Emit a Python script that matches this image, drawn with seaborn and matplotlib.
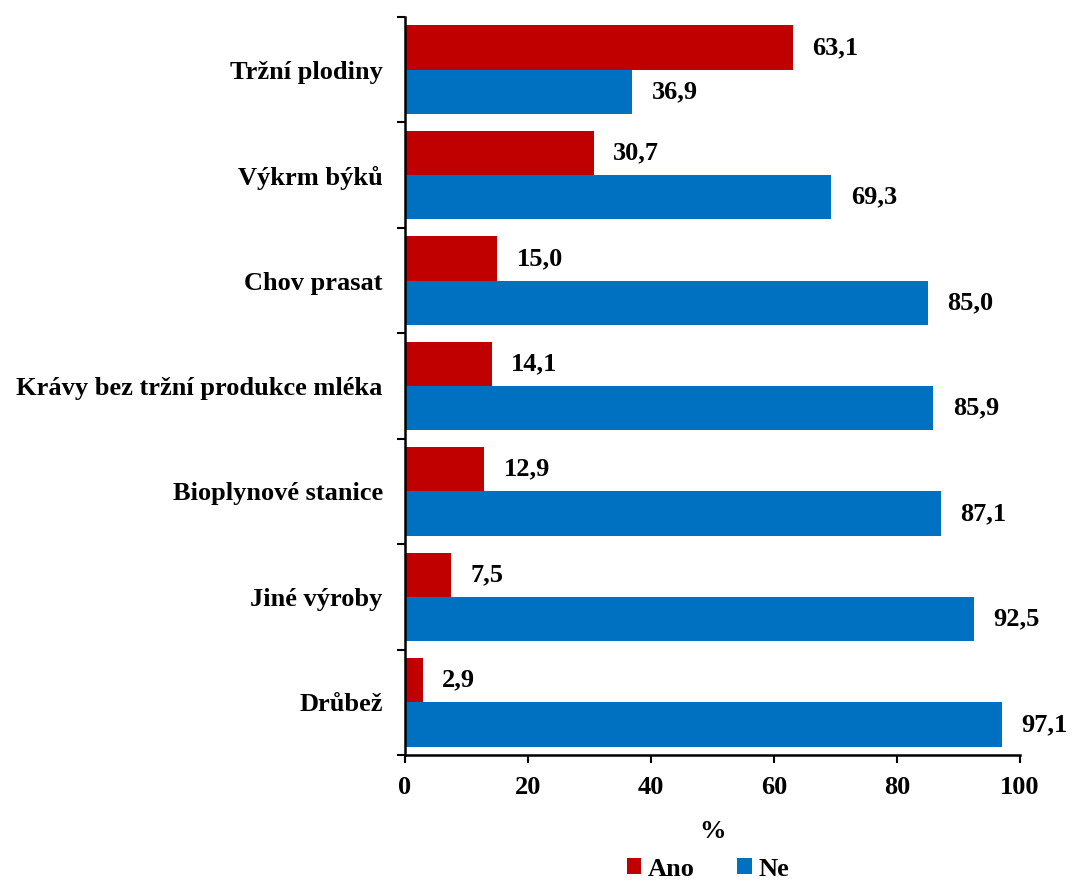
import matplotlib
matplotlib.use("Agg")
import matplotlib.pyplot as plt
import seaborn as sns
import pandas as pd
import numpy as np
from matplotlib.patches import Patch

categories = ["Tržní plodiny", "Výkrm býků", "Chov prasat",
              "Krávy bez tržní produkce mléka", "Bioplynové stanice",
              "Jiné výroby", "Drůbež"]
ano = [63.1, 30.7, 15.0, 14.1, 12.9, 7.5, 2.9]
ne = [36.9, 69.3, 85.0, 85.9, 87.1, 92.5, 97.1]
series = ["Ano", "Ne"]
colors = ["#C00000", "#0070C0"]
xticks = [0, 20, 40, 60, 80, 100]

df = pd.DataFrame({
    "cat": categories * 2,
    "val": ano + ne,
    "series": [series[0]] * len(categories) + [series[1]] * len(categories),
})

sns.set_theme(style="white")
plt.rcParams["font.family"] = ["Liberation Serif", "DejaVu Serif"]
plt.rcParams["font.weight"] = "bold"
plt.rcParams["text.color"] = "black"
plt.rcParams["axes.labelcolor"] = "black"
plt.rcParams["xtick.color"] = "black"
plt.rcParams["ytick.color"] = "black"

FS = 19

fig = plt.figure(figsize=(10.73, 8.84), dpi=100)
ax = fig.add_axes([405/1073, 1-755/884, (1020-405)/1073, (755-17)/884])

sns.barplot(data=df, y="cat", x="val", hue="series", order=categories,
            hue_order=series, palette=colors, orient="h", width=0.84,
            saturation=1, ax=ax, legend=False, linewidth=0)

for cont in ax.containers:
    labels = [f"{v:.1f}".replace(".", ",") for v in cont.datavalues]
    ax.bar_label(cont, labels=labels, padding=14, fontsize=FS, fontweight="bold", color="black")

ax.set_xlim(0, 100)
ax.set_ylim(len(categories) - 0.5, -0.5)
ax.set_xticks(xticks)
ax.set_xticklabels([str(t) for t in xticks], fontsize=FS, fontweight="bold")
ax.set_yticks(range(len(categories)))
ax.set_yticklabels(categories, fontsize=FS, fontweight="bold")
ax.set_yticks(np.arange(-0.5, len(categories), 1.0), minor=True)
ax.tick_params(axis="y", which="major", left=True, length=0, pad=16)
ax.tick_params(axis="y", which="minor", left=True, length=6, width=1.5, color="black", direction="out")
ax.tick_params(axis="x", which="major", bottom=True, length=6, width=1.5, color="black", direction="out", pad=9)
ax.set_ylabel("")
ax.set_xlabel("%", fontsize=FS, fontweight="bold", labelpad=15.5, color="black")

for s in ["top", "right"]:
    ax.spines[s].set_visible(False)
for s in ["left", "bottom"]:
    ax.spines[s].set_color("black")
    ax.spines[s].set_linewidth(1.8)

handles = [Patch(facecolor=c, edgecolor="none", label=l) for c, l in zip(colors, series)]
fig.legend(handles=handles, loc="center", ncol=2, frameon=False,
           bbox_to_anchor=(708/1073, 1-869/884), prop={"weight": "bold", "size": FS},
           handlelength=0.55, handleheight=0.55, handletextpad=0.25, columnspacing=1.6,
           borderpad=0)

fig.savefig("out.png", dpi=100)
